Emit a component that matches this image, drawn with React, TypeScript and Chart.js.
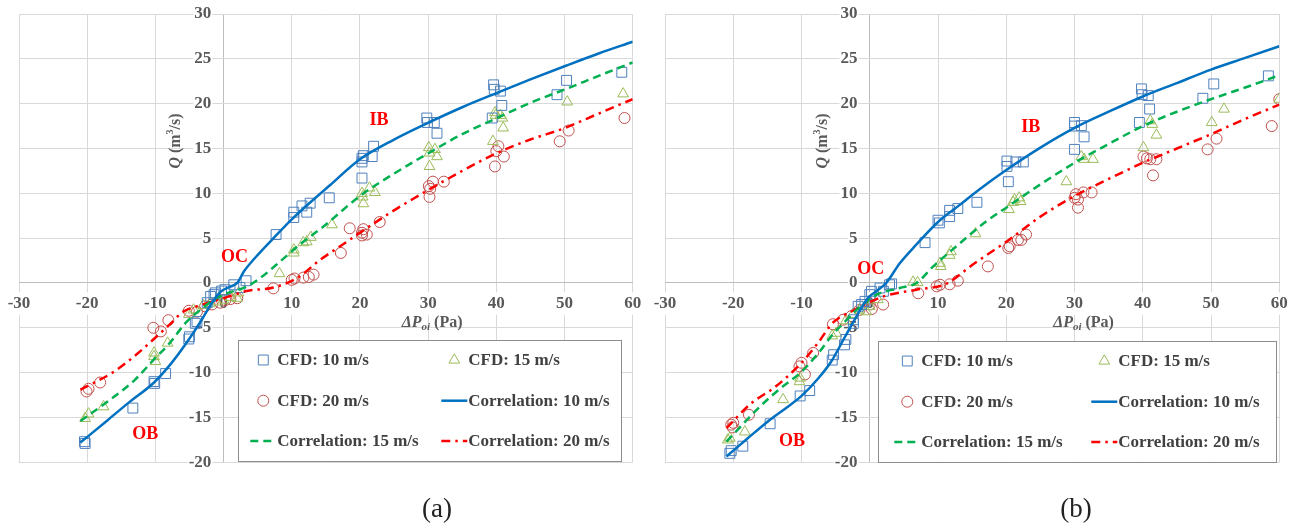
import React, { useEffect, useRef } from "react";
import { Chart, registerables } from "chart.js";

Chart.register(...registerables);

type P = [number, number];

const FAMILY = "'Liberation Serif', 'Times New Roman', serif";

// ---------- axes ----------
const X_TICKS = [-30, -20, -10, 0, 10, 20, 30, 40, 50, 60];
const Y_TICKS = [-20, -15, -10, -5, 0, 5, 10, 15, 20, 25, 30];

const SERIES_LABELS = [
  "CFD: 10 m/s",
  "CFD: 15 m/s",
  "CFD: 20 m/s",
  "Correlation: 10 m/s",
  "Correlation: 15 m/s",
  "Correlation: 20 m/s",
];

const PANEL_LABELS = ["(a)", "(b)"];

// ---------- panel (a) ----------
const A_CFD10: P[] = [
  [-20.4, -17.7], [-20.3, -17.9], [-13.3, -13.95], [-10.2, -11.0], [-10.1, -11.2], [-8.5, -10.1],
  [-5.1, -6.25], [-5.0, -6.0], [-4.15, -4.5], [-3.9, -4.3], [-2.4, -2.2], [-1.9, -1.5], [-1.4, -1.3],
  [-1.2, -1.1], [-0.3, -0.9], [0.2, -0.75], [1.5, -0.2], [2.4, -0.5], [3.3, 0.25],
  [7.7, 5.4], [10.3, 7.9], [10.3, 7.3], [11.5, 8.6], [12.2, 7.9], [12.7, 8.9], [15.5, 9.5],
  [20.3, 13.9], [20.3, 13.5], [20.5, 14.2], [20.3, 11.7], [21.8, 14.1], [22.0, 15.25],
  [29.8, 18.4], [29.9, 17.9], [30.9, 17.9], [31.3, 16.7],
  [39.6, 22.1], [39.7, 21.6], [40.6, 21.4], [40.8, 19.8], [39.4, 18.4],
  [48.9, 21.0], [50.3, 22.6], [58.4, 23.5],
];
const A_CFD15: P[] = [
  [-20.3, -15.1], [-19.8, -14.6], [-17.6, -13.8], [-10.2, -7.8], [-10.2, -8.2], [-10.0, -8.75],
  [-8.2, -6.7], [-5.1, -3.5], [-4.4, -3.0], [-3.0, -2.5], [-2.0, -2.3], [-1.0, -2.1], [0, -1.9],
  [1.0, -1.6], [2.0, -1.7], [2.2, -1.1],
  [8.2, 1.05], [10.3, 3.7], [10.3, 3.35], [11.7, 4.5], [12.2, 4.6], [12.8, 5.1], [15.9, 6.5],
  [20.3, 10.0], [20.4, 9.6], [20.5, 8.85], [21.4, 10.6], [22.2, 10.1],
  [30.1, 15.1], [30.2, 14.5], [31.0, 14.9], [31.3, 14.1], [30.2, 13.0],
  [39.8, 19.0], [39.9, 18.7], [40.6, 18.7], [40.9, 18.4], [41.0, 17.3], [39.5, 15.8],
  [50.4, 20.2], [58.6, 21.1],
];
const A_CFD20: P[] = [
  [-20.1, -12.1], [-19.8, -11.8], [-18.1, -11.1], [-10.3, -5.0], [-9.2, -5.4], [-8.1, -4.15],
  [-5.1, -3.1], [-3.9, -3.2], [-2.7, -2.6], [-1.7, -2.4], [-0.5, -2.2], [0.25, -1.9], [1.0, -1.8],
  [2.0, -1.7],
  [7.3, -0.6], [10.0, 0.35], [10.4, 0.5], [11.7, 0.6], [12.5, 0.67], [13.2, 0.93],
  [17.2, 3.35], [18.5, 6.1], [20.3, 5.6], [20.5, 6.0], [21.0, 5.4], [20.3, 5.3], [22.9, 6.8],
  [30.1, 10.8], [30.3, 10.5], [30.7, 11.3], [32.3, 11.3], [30.2, 9.6],
  [40.3, 15.25], [40.0, 14.7], [41.1, 14.1], [39.8, 13.0],
  [49.3, 15.8], [50.6, 17.0], [58.8, 18.4],
];
const A_COR10: P[] = [
  [-21, -17.8], [-17, -15.3], [-14, -13.4], [-10.2, -11.1], [-7.5, -8.8], [-5, -6.2], [-3.2, -4.1],
  [-1.7, -2.2], [-0.3, -0.9], [1, -0.4], [2, 0], [3, 1.3], [4.5, 2.7], [7.7, 5.3],
  [10, 7.1], [15.6, 10.9], [20, 13.8], [25, 16.0], [30.1, 17.9], [35, 19.6],
  [40.1, 21.2], [45, 22.7], [50.1, 24.2], [55, 25.6], [60, 26.9],
];
const A_COR15: P[] = [
  [-21, -15.4], [-16.6, -13.0], [-13, -10.8], [-10.3, -8.6], [-8, -6.8], [-5.5, -4.4], [-3.4, -3.0],
  [-1.5, -1.9], [0, -1.3], [3.4, -0.4], [5.4, 0.56], [8.3, 2.4], [11.2, 4.3], [14.5, 6.2],
  [20, 9.7], [25, 12.2], [30.1, 14.5], [35, 16.6], [40.1, 18.4], [45, 20.1], [50.1, 21.6],
  [55, 23.1], [60, 24.6],
];
const A_COR20: P[] = [
  [-21, -11.9], [-16.1, -9.9], [-12.2, -7.6], [-10.3, -6.3], [-8, -4.7], [-5.9, -3.2], [-3, -2.4],
  [0, -1.7], [3.4, -0.9], [7.3, -0.5], [10.8, 0.56], [14.2, 2.6], [17.1, 4.1], [20, 5.6],
  [25, 8.1], [30.1, 10.4], [35, 12.5], [40.1, 14.5], [45, 16.0], [50.1, 17.3], [55, 18.9], [60, 20.5],
];

// ---------- panel (b) ----------
const B_CFD10: P[] = [
  [-20.5, -19.0], [-20.3, -18.7], [-18.6, -18.2], [-14.6, -15.7], [-10.2, -12.6], [-8.8, -12.0],
  [-5.5, -8.6], [-5.3, -8.0], [-3.7, -6.9], [-3.5, -6.3], [-2.4, -4.5], [-2.4, -4.1], [-1.7, -2.6],
  [-1.2, -2.4], [-0.7, -2.05], [0, -1.3], [0.24, -0.93], [1.5, -0.56], [2.0, -0.93], [2.9, -0.2],
  [3.2, -0.1],
  [8.1, 4.5], [10.0, 7.0], [10.2, 6.7], [11.7, 7.4], [11.7, 8.1], [12.9, 8.3], [15.7, 9.0],
  [20.1, 13.6], [20.1, 13.0], [21.4, 13.5], [22.5, 13.5], [20.3, 11.3],
  [30.0, 17.9], [30.0, 17.5], [31.0, 17.55], [31.4, 16.3], [30.0, 14.9],
  [39.8, 21.65], [39.9, 21.0], [40.8, 20.9], [41.0, 19.4], [39.5, 17.9],
  [48.8, 20.6], [50.4, 22.2], [58.4, 23.1],
];
const B_CFD15: P[] = [
  [-20.8, -17.5], [-20.5, -17.3], [-18.3, -16.6], [-12.7, -13.0], [-10.3, -11.0], [-10.2, -10.6],
  [-5.5, -5.9], [-4.9, -5.6], [-3.5, -4.2], [-2.5, -3.5], [-1.5, -3.0], [-0.5, -3.2], [0, -2.6],
  [1.2, -1.85],
  [6.35, 0.1], [7.0, 0.05], [10.3, 2.2], [10.4, 1.85], [11.7, 3.1], [11.9, 3.5], [15.5, 5.5],
  [20.4, 8.2], [21.0, 9.0], [21.2, 9.3], [21.9, 9.5], [22.1, 9.1], [28.8, 11.3],
  [31.0, 14.1], [31.4, 13.8], [32.7, 13.8],
  [40.1, 15.1], [41.1, 18.1], [41.4, 17.7], [42.0, 16.5],
  [50.1, 17.9], [51.9, 19.4], [60, 20.5],
];
const B_CFD20: P[] = [
  [-20.3, -15.8], [-20.0, -15.6], [-20.1, -16.1], [-17.7, -14.7], [-10.0, -8.9], [-10.3, -9.3],
  [-9.5, -10.2], [-8.3, -7.8], [-5.4, -4.6], [-3.9, -4.1], [-2.7, -3.7], [-1.5, -3.0], [0, -2.4],
  [0.3, -2.9], [1.96, -2.4],
  [7.1, -1.15], [9.8, -0.37], [10.3, -0.2], [11.7, -0.15], [12.9, 0.25],
  [17.3, 1.85], [20.3, 3.9], [20.5, 4.1], [21.7, 4.8], [22.2, 4.8], [22.9, 5.4],
  [30.0, 9.5], [30.2, 9.9], [30.5, 9.3], [31.3, 10.1], [32.5, 10.1], [30.5, 8.4],
  [40.1, 14.1], [40.6, 13.9], [41.1, 13.8], [42.0, 13.8], [41.5, 12.0],
  [49.5, 14.9], [50.8, 16.1], [58.9, 17.5], [60, 20.5],
];
const B_COR10: P[] = [
  [-21, -19.35], [-18, -17.4], [-14.7, -15.3], [-12, -13.8], [-10, -12.6], [-7.5, -10.6],
  [-5.6, -8.7], [-3.7, -6.1], [-2, -3.8], [-0.3, -1.7], [1, -0.9], [2.4, 0], [4.4, 2.2],
  [6.85, 4.3], [10, 6.8], [13, 8.6], [16, 10.4], [20, 12.6], [25, 15.1], [30, 17.3],
  [35, 19.1], [40, 20.8], [45, 22.3], [50, 23.8], [55, 25.1], [60, 26.4],
];
const B_COR15: P[] = [
  [-21, -17.7], [-16.1, -13.8], [-13, -11.7], [-10, -9.9], [-7.5, -7.8], [-5.5, -5.8], [-3.5, -4.2],
  [-1.95, -3.0], [1, -1.3], [4.4, -0.56], [6.85, 0], [9.3, 1.85], [12.7, 4.1], [15, 5.6],
  [17.1, 6.9], [20, 8.4], [25, 11.0], [30, 13.4], [35, 15.5], [40, 17.5], [45, 19.1],
  [50, 20.5], [55, 21.8], [59.4, 23.0],
];
const B_COR20: P[] = [
  [-21, -16.2], [-17.5, -13.5], [-13.7, -11.5], [-10, -8.9], [-7.5, -6.6], [-5.5, -4.5],
  [-2.5, -3.1], [2, -1.5], [6.85, -0.75], [11.2, -0.1], [15, 2.0], [20, 4.6], [25, 7.4],
  [30, 9.7], [35, 11.6], [40, 13.4], [45, 15.0], [50, 16.6], [55, 18.3], [60, 19.9],
];

// annotation texts (data coordinates)
const A_NOTES = [
  { t: "OC", x: 1.6, y: 2.9 },
  { t: "IB", x: 22.8, y: 18.1 },
  { t: "OB", x: -11.5, y: -16.9 },
];
const B_NOTES = [
  { t: "OC", x: 0.15, y: 1.5 },
  { t: "IB", x: 23.6, y: 17.4 },
  { t: "OB", x: -11.4, y: -17.7 },
];

// ---------- styles ----------
const MARKER_STYLES = [
  { shape: "rect", color: "#4f81bd", radius: 7 },
  { shape: "triangle", color: "#9bbb59", radius: 6.2 },
  { shape: "circle", color: "#c0504d", radius: 5.5 },
];
const LINE_STYLES = [
  { color: "#0070c0", dash: [] as number[], width: 2.5 },
  { color: "#00b050", dash: [8, 5], width: 2.5 },
  { color: "#ff0000", dash: [9, 5, 2.5, 5], width: 2.5 },
];

type Geom = {
  left: number;
  width: number;
  pad: { left: number; right: number; top: number; bottom: number };
  legend: { l: number; t: number; r: number; b: number; c1: number; c2: number };
  yTitleDx: number;
  xTitleDx: number;
};

const GEOM_A: Geom = {
  left: 0,
  width: 650,
  pad: { left: 19, right: 17.3, top: 14, bottom: 68.7 },
  legend: { l: 238.3, t: 340, r: 621.7, b: 460.7, c1: 12, c2: 203 },
  yTitleDx: -48,
  xTitleDx: 4,
};
const GEOM_B: Geom = {
  left: 650,
  width: 649,
  pad: { left: 15, right: 19.7, top: 14, bottom: 68.7 },
  legend: { l: 878.3 - 650, t: 341, r: 1276 - 650, b: 461.7, c1: 16, c2: 213 },
  yTitleDx: -47,
  xTitleDx: 9,
};

type Seg = { text: string; font: string; dy?: number };
const Y_TITLE: Seg[] = [
  { text: "Q", font: `italic bold 16px ${FAMILY}` },
  { text: " (m", font: `bold 16px ${FAMILY}` },
  { text: "3", font: `bold 10px ${FAMILY}`, dy: -5 },
  { text: "/s)", font: `bold 16px ${FAMILY}` },
];
const X_TITLE: Seg[] = [
  { text: "ΔP", font: `italic bold 16px ${FAMILY}` },
  { text: "oi", font: `italic bold 11px ${FAMILY}`, dy: 4 },
  { text: " (Pa)", font: `bold 16px ${FAMILY}` },
];

function drawRich(ctx: CanvasRenderingContext2D, segs: Seg[], cx: number, cy: number, rotate: boolean) {
  ctx.save();
  ctx.translate(cx, cy);
  if (rotate) ctx.rotate(-Math.PI / 2);
  let total = 0;
  for (const s of segs) {
    ctx.font = s.font;
    total += ctx.measureText(s.text).width;
  }
  let x = -total / 2;
  ctx.textBaseline = "middle";
  ctx.textAlign = "left";
  ctx.fillStyle = "#595959";
  for (const s of segs) {
    ctx.font = s.font;
    ctx.fillText(s.text, x, s.dy || 0);
    x += ctx.measureText(s.text).width;
  }
  ctx.restore();
}

function drawMarker(ctx: CanvasRenderingContext2D, shape: string, cx: number, cy: number, r: number, color: string) {
  ctx.save();
  ctx.strokeStyle = color;
  ctx.lineWidth = 1;
  ctx.beginPath();
  if (shape === "rect") {
    const s = r * Math.SQRT1_2;
    ctx.rect(cx - s, cy - s, 2 * s, 2 * s);
  } else if (shape === "triangle") {
    const h = r * 1.5;
    const w = r * Math.cos(Math.PI / 6);
    ctx.moveTo(cx, cy - r);
    ctx.lineTo(cx + w, cy - r + h);
    ctx.lineTo(cx - w, cy - r + h);
    ctx.closePath();
  } else {
    ctx.arc(cx, cy, r, 0, Math.PI * 2);
  }
  ctx.stroke();
  ctx.restore();
}

const toXY = (arr: P[]) => arr.map(([x, y]) => ({ x, y }));

const zeroPadding = (s: any) => {
  s.paddingLeft = 0;
  s.paddingRight = 0;
  s.paddingTop = 0;
  s.paddingBottom = 0;
};
const gridColor = (c: any) => (c.tick && c.tick.value === 0 ? "#bdbdbd" : "#d9d9d9");

type PanelData = { cfd: P[][]; cor: P[][]; notes: { t: string; x: number; y: number }[] };

function Panel({ data, geom }: { data: PanelData; geom: Geom }) {
  const ref = useRef<HTMLCanvasElement>(null);
  useEffect(() => {
    const canvas = ref.current;
    if (!canvas) return;

    const markerSets = data.cfd.map((arr, i) => ({
      type: "scatter" as const,
      label: SERIES_LABELS[i],
      data: toXY(arr),
      showLine: false,
      pointStyle: MARKER_STYLES[i].shape as any,
      pointRadius: MARKER_STYLES[i].radius,
      pointBorderColor: MARKER_STYLES[i].color,
      pointBackgroundColor: "rgba(0,0,0,0)",
      pointBorderWidth: 1,
      borderColor: MARKER_STYLES[i].color,
      backgroundColor: "rgba(0,0,0,0)",
      order: 1,
    }));
    const lineSets = data.cor.map((arr, i) => ({
      type: "scatter" as const,
      label: SERIES_LABELS[i + 3],
      data: toXY(arr),
      showLine: true,
      pointRadius: 0,
      borderColor: LINE_STYLES[i].color,
      borderWidth: LINE_STYLES[i].width,
      borderDash: LINE_STYLES[i].dash,
      cubicInterpolationMode: "monotone" as const,
      tension: 0.4,
      fill: false,
      order: 0,
    }));

    const overlay = {
      id: "overlay",
      afterDraw(chart: any) {
        const ctx: CanvasRenderingContext2D = chart.ctx;
        const xs = chart.scales.x;
        const ys = chart.scales.y;
        // region annotations
        ctx.save();
        ctx.fillStyle = "#ff0000";
        ctx.font = `bold 18px ${FAMILY}`;
        ctx.textAlign = "center";
        ctx.textBaseline = "middle";
        for (const n of data.notes) ctx.fillText(n.t, xs.getPixelForValue(n.x), ys.getPixelForValue(n.y));
        ctx.restore();
        // axis titles
        drawRich(ctx, Y_TITLE, xs.getPixelForValue(0) + geom.yTitleDx, 141, true);
        drawRich(ctx, X_TITLE, xs.getPixelForValue(30) + geom.xTitleDx, ys.getPixelForValue(0) + 40, false);
        // legend
        const L = geom.legend;
        ctx.save();
        ctx.fillStyle = "#ffffff";
        ctx.fillRect(L.l, L.t, L.r - L.l, L.b - L.t);
        ctx.strokeStyle = "#8c8c8c";
        ctx.lineWidth = 1;
        ctx.strokeRect(Math.round(L.l) + 0.5, Math.round(L.t) + 0.5, Math.round(L.r - L.l), Math.round(L.b - L.t));
        const rows = [20, 60.7, 101];
        const all = chart.data.datasets;
        for (let i = 0; i < all.length; i++) {
          const ds = all[i];
          const col = i % 2;
          const row = Math.floor(i / 2);
          const x0 = L.l + (col === 0 ? L.c1 : L.c2);
          const y = L.t + rows[row];
          if (ds.showLine) {
            ctx.save();
            ctx.strokeStyle = ds.borderColor;
            ctx.lineWidth = ds.borderWidth;
            ctx.setLineDash(ds.borderDash || []);
            ctx.beginPath();
            ctx.moveTo(x0, y);
            ctx.lineTo(x0 + 26, y);
            ctx.stroke();
            ctx.restore();
          } else {
            const st = MARKER_STYLES[i];
            drawMarker(ctx, st.shape, x0 + 13, y, st.radius, st.color);
          }
          ctx.fillStyle = "#404040";
          ctx.font = `bold 17px ${FAMILY}`;
          ctx.textAlign = "left";
          ctx.textBaseline = "middle";
          ctx.fillText(ds.label, x0 + 27, y + 1);
        }
        ctx.restore();
      },
    };

    const tickFont = { family: FAMILY, size: 17, weight: "bold" as const };
    const chart = new Chart(canvas, {
      type: "scatter",
      data: { datasets: [...markerSets, ...lineSets] as any },
      options: {
        responsive: false,
        animation: false,
        layout: { padding: geom.pad },
        plugins: { legend: { display: false }, tooltip: { enabled: false } },
        scales: {
          x: {
            type: "linear",
            min: -30,
            max: 60,
            position: { y: 0 } as any,
            afterBuildTicks: (s: any) => {
              s.ticks = X_TICKS.map((v) => ({ value: v }));
            },
            afterFit: zeroPadding,
            grid: { color: gridColor, lineWidth: 1, drawTicks: false, tickLength: 0 },
            border: { display: true, color: "#bdbdbd", width: 1 },
            ticks: {
              font: tickFont,
              color: "#595959",
              padding: 10.5,
              maxRotation: 0,
              autoSkip: false,
              showLabelBackdrop: true,
              backdropColor: "#ffffff",
              backdropPadding: 1,
            } as any,
          },
          y: {
            type: "linear",
            min: -20,
            max: 30,
            position: { x: -1.8 } as any,
            afterBuildTicks: (s: any) => {
              s.ticks = Y_TICKS.map((v) => ({ value: v }));
            },
            afterFit: zeroPadding,
            grid: { color: gridColor, lineWidth: 1, drawTicks: false, tickLength: 0 },
            border: { display: false },
            ticks: {
              font: tickFont,
              color: "#595959",
              padding: 0,
              autoSkip: false,
              showLabelBackdrop: true,
              backdropColor: "#ffffff",
              backdropPadding: 1,
            } as any,
          },
        },
      },
      plugins: [overlay],
    });
    return () => chart.destroy();
  }, []);
  return (
    <canvas
      ref={ref}
      width={geom.width}
      height={531}
      style={{ position: "absolute", left: geom.left, top: 0, width: geom.width, height: 531 }}
    />
  );
}

export default function App() {
  const labelStyle = (cx: number, cy: number): React.CSSProperties => ({
    position: "absolute",
    left: cx - 40,
    top: cy - 16,
    width: 80,
    height: 32,
    lineHeight: "32px",
    textAlign: "center",
    fontFamily: FAMILY,
    fontSize: 27,
    color: "#222",
  });
  return (
    <div
      style={{
        position: "absolute",
        left: 0,
        top: 0,
        width: 1299,
        height: 531,
        background: "#fff",
        overflow: "hidden",
      }}
    >
      <Panel data={{ cfd: [A_CFD10, A_CFD15, A_CFD20], cor: [A_COR10, A_COR15, A_COR20], notes: A_NOTES }} geom={GEOM_A} />
      <Panel data={{ cfd: [B_CFD10, B_CFD15, B_CFD20], cor: [B_COR10, B_COR15, B_COR20], notes: B_NOTES }} geom={GEOM_B} />
      <div style={labelStyle(437, 508)}>{PANEL_LABELS[0]}</div>
      <div style={labelStyle(1076, 508)}>{PANEL_LABELS[1]}</div>
    </div>
  );
}
